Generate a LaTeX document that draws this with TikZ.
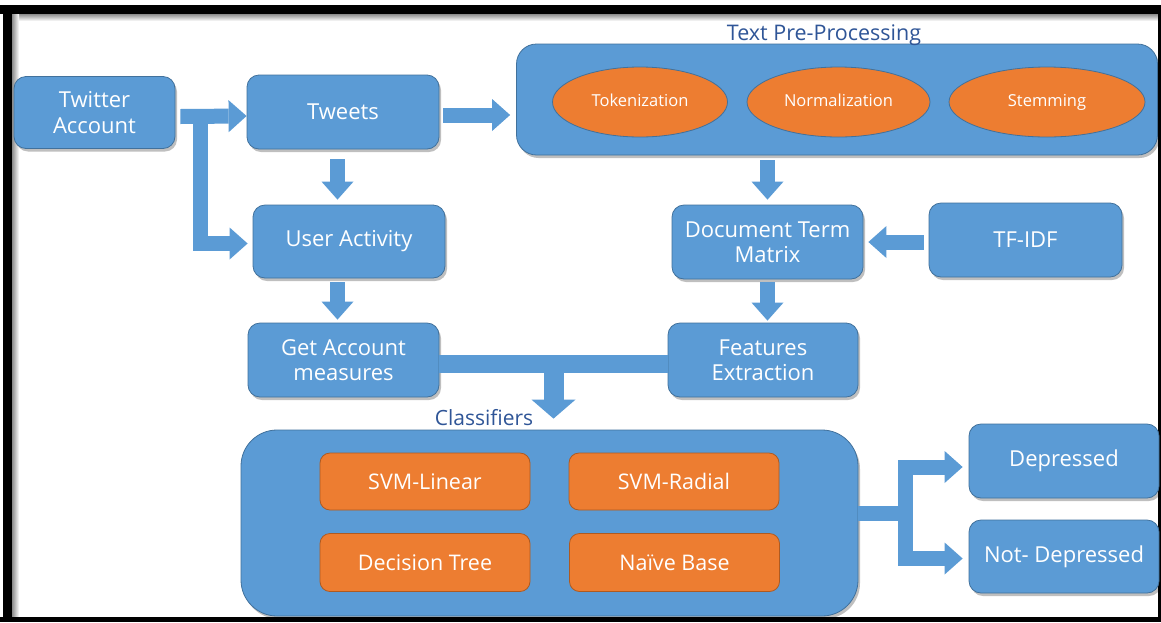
\documentclass[tikz,border=0pt]{standalone}
\usepackage{fontspec}
\setmainfont{Open Sans}
\usetikzlibrary{arrows.meta,shapes.geometric,shadows,calc}
\definecolor{boxblue}{HTML}{5B9BD5}
\definecolor{boxline}{HTML}{41719C}
\definecolor{orng}{HTML}{ED7D31}
\definecolor{orngline}{HTML}{AE5A21}
\definecolor{titleblue}{HTML}{2F5597}
\begin{document}
\begin{tikzpicture}[x=1pt,y=-1pt,
  shad/.style={drop shadow={shadow xshift=2pt,shadow yshift=-3pt,opacity=0.25,fill=black}},
  box/.style={draw=boxline,line width=0.8pt,fill=boxblue,rounded corners=12pt,text=white,
    font=\fontsize{22}{25.5}\selectfont,align=center,inner sep=0pt,shad},
  obox/.style={draw=orngline,line width=0.8pt,fill=orng,rounded corners=10pt,text=white,
    font=\fontsize{21.5}{25}\selectfont,align=center,inner sep=0pt,
    minimum width=210pt,minimum height=57pt},
  oell/.style={ellipse,draw=boxline,line width=0.8pt,fill=orng,text=white,
    font=\fontsize{16.5}{19}\selectfont,inner sep=0pt,minimum height=70pt,
    text height=12pt,text depth=4pt},
  grp/.style={draw=boxline,line width=0.8pt,fill=boxblue,inner sep=0pt,shad},
  bar/.style={draw=boxblue,line width=15pt,line join=miter},
  barrow/.style={draw=boxblue,line width=15pt,line join=miter,
    -{Triangle[width=32pt,length=18pt,line width=0pt]}},
  ttl/.style={text=titleblue,inner sep=0pt}
]
\useasboundingbox (0,0) rectangle (1161,622);
\fill[white] (0,0) rectangle (1161,622);
% frame inner shadow
\shade[top color=black!45,bottom color=white] (12,14) rectangle (1158,21);
\shade[left color=black!45,right color=white] (12,14) rectangle (19,617);
% frame
\fill[black] (0,5) rectangle (1161,14);
\fill[black] (3,5) rectangle (12,622);
\fill[black] (0,617) rectangle (1161,622);
\fill[black] (1158,5) rectangle (1161,622);

% group boxes
\node[grp,rounded corners=20pt,minimum width=641pt,minimum height=111pt] (tp) at (837,99.5) {};
\node[ttl,font=\fontsize{21.5}{25}\selectfont] (tpt) at (824,35) {Text Pre-Processing};
\node[oell,minimum width=175pt] (tok) at (640,102) {Tokenization};
\node[oell,minimum width=183pt] (norm) at (838.5,102) {Normalization};
\node[oell,minimum width=196pt] (stem) at (1047,102) {Stemming};

\node[grp,rounded corners=36pt,minimum width=617pt,minimum height=186pt] (cls) at (549.5,523) {};
\node[ttl,font=\fontsize{21}{25}\selectfont] (clst) at (484,418) {Classifiers};
\node[obox] (svml) at (425,481.5) {SVM-Linear};
\node[obox] (svmr) at (674,481.5) {SVM-Radial};
\node[obox,minimum height=58pt] (dt) at (425,562.5) {Decision Tree};
\node[obox,minimum height=58pt] (nb) at (674.5,562.5) {Naïve Base};

% boxes
\node[box,minimum width=161pt,minimum height=72pt] (ta) at (94.5,112.5) {Twitter\\Account};
\node[box,minimum width=192pt,minimum height=74pt] (tweets) at (343,112) {Tweets};
\node[box,minimum width=192pt,minimum height=73pt] (ua) at (349,241.5) {User Activity};
\node[box,minimum width=191pt,minimum height=74pt] (gam) at (343.5,360) {Get Account\\measures};
\node[box,minimum width=191pt,minimum height=74pt] (dtm) at (767.5,242) {Document Term\\Matrix};
\node[box,minimum width=193pt,minimum height=74pt] (tfidf) at (1025.5,240) {TF-IDF};
\node[box,minimum width=190pt,minimum height=74pt] (fe) at (763,360) {Features\\Extraction};
\node[box,minimum width=190pt,minimum height=74pt] (dep) at (1064,461) {Depressed};
\node[box,minimum width=190pt,minimum height=73pt] (nd) at (1064,556.5) {Not- Depressed};

% connectors
\draw[barrow] ($(ta.east)+(25,4)$) |- ($(ua.west)+(-5,2)$);
\draw[barrow] ($(ta.east)+(5,4)$) -- ($(tweets.west)+(0,4)$);
\draw[barrow] ($(tweets.east)+(4,3)$) -- ($(tweets.east -| tp.west)+(-6,3)$);
\draw[barrow] ($(tweets.south)+(-5.5,10)$) -- ($(ua.north)+(-11.5,-5)$);
\draw[barrow] ($(ua.south)+(-11.5,4)$) -- ($(gam.north)+(-6,-3)$);
\draw[barrow] ($(tp.south -| dtm.north)+(0,5)$) -- ($(dtm.north)+(0,-5)$);
\draw[barrow] ($(tfidf.west)+(-5,2)$) -- ($(dtm.east |- tfidf.west)+(5,2)$);
\draw[barrow] ($(dtm.south)+(0,3)$) -- ($(fe.north -| dtm.south)+(0,-2)$);

\coordinate (mj) at ($(gam.east)!0.5!(fe.west)+(0,4)$);
\draw[bar,line width=18pt] ($(gam.east)+(0,4)$) -- ($(fe.west)+(0,4)$);
\draw[barrow,line width=20pt,-{Triangle[width=44pt,length=19pt,line width=0pt]}]
  (mj) -- ($(cls.north -| mj)+(0,-11)$);

\coordinate (cj) at ($(cls.east)+(47,-10)$);
\draw[bar] (cls.east |- cj) -- (cj);
\draw[barrow] ($(cj)+(0,7)$) |- ($(dep.west)+(-6,6)$);
\draw[barrow] ($(cj)+(0,-7)$) |- ($(nd.west)+(-6,2)$);
\end{tikzpicture}
\end{document}
